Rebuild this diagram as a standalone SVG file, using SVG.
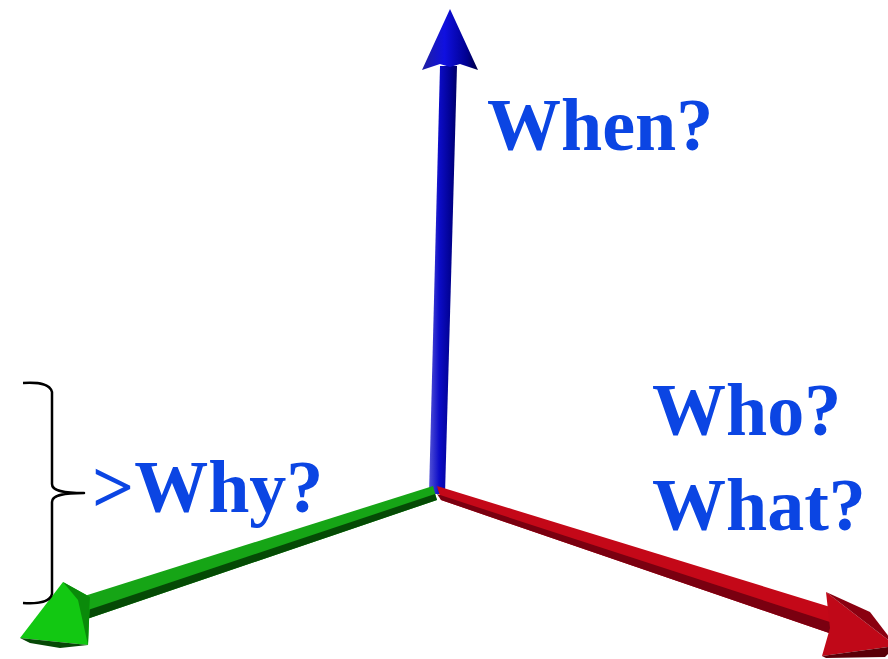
<svg xmlns="http://www.w3.org/2000/svg" width="888" height="659" viewBox="0 0 888 659">
  <style>
    .lbl { font-family: "Liberation Serif", "DejaVu Serif", serif; font-weight: bold; fill: #0b45e3; font-size: 74px; }
    .brace { fill: none; stroke: #000; stroke-width: 2.5; stroke-linejoin: round; }
  </style>
  <defs>
    <linearGradient id="gBlue" gradientUnits="userSpaceOnUse" x1="428" y1="0" x2="460" y2="0">
      <stop offset="0" stop-color="#5a5ad8"/>
      <stop offset="0.35" stop-color="#0c0cc8"/>
      <stop offset="0.75" stop-color="#00008a"/>
      <stop offset="1" stop-color="#000050"/>
    </linearGradient>
    <linearGradient id="gBlueHead" gradientUnits="userSpaceOnUse" x1="422" y1="0" x2="478" y2="0">
      <stop offset="0" stop-color="#2020a0"/>
      <stop offset="0.4" stop-color="#1010e0"/>
      <stop offset="0.8" stop-color="#000090"/>
      <stop offset="1" stop-color="#000040"/>
    </linearGradient>
  </defs>

  <g id="connectors">
    <g id="axis-when">
      <polygon points="429,494 445,494 457,66 440,66" fill="url(#gBlue)"/>
      <polygon points="450,9 478,70 460,64 450,67 440,64 422,70" fill="url(#gBlueHead)"/>
    </g>
    <g id="axis-who">
      <polygon points="437,486 441,500 832,634 840,610" fill="#c40818"/>
      <polygon points="441,500 437,494 836,624 832,634" fill="#7a0010"/>
      <polygon points="826,592 896,646 822,656 830,628" fill="#c00818"/>
      <polygon points="826,592 896,646 870,612" fill="#8a0010"/>
      <polygon points="822,656 896,646 885,657 826,658" fill="#5a0008"/>
    </g>
    <g id="axis-why">
      <polygon points="433,486 437,500 84,620 78,598" fill="#16a516"/>
      <polygon points="437,500 435,494 82,612 84,620" fill="#054a05"/>
      <polygon points="20,638 63,582 90,597 88,645" fill="#12c812"/>
      <polygon points="20,638 88,645 60,648 30,643" fill="#064806"/>
      <polygon points="63,582 90,597 88,645 78,600" fill="#0a8a0a"/>
    </g>
  </g>

  <g id="brace">
    <path class="brace" d="M23,383 C40,382 50,384 52,392 L52,484 C52,490 60,493 84,493 C60,493 52,496 52,502 L52,594 C50,602 40,604 23,603"/>
  </g>

  <g id="label-when"><text class="lbl" x="487" y="150">When?</text></g>
  <g id="label-who"><text class="lbl" x="652" y="435">Who?</text></g>
  <g id="label-what"><text class="lbl" x="652" y="530">What?</text></g>
  <g id="label-why"><text class="lbl" x="92" y="512">&gt;Why?</text></g>
</svg>
